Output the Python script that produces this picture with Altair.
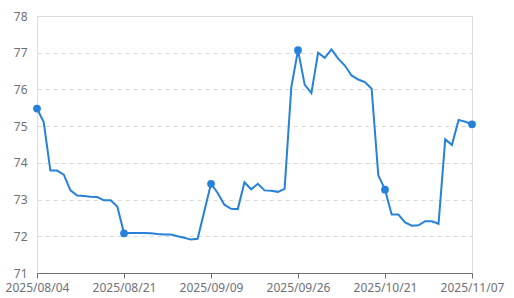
import altair as alt
import pandas as pd

dates = [
    "2025/08/04", "2025/08/05", "2025/08/06", "2025/08/07", "2025/08/08",
    "2025/08/11", "2025/08/12", "2025/08/13", "2025/08/14", "2025/08/15",
    "2025/08/18", "2025/08/19", "2025/08/20", "2025/08/21", "2025/08/22",
    "2025/08/25", "2025/08/26", "2025/08/27", "2025/08/28", "2025/08/29",
    "2025/09/01", "2025/09/02", "2025/09/03", "2025/09/04", "2025/09/05",
    "2025/09/08", "2025/09/09", "2025/09/10", "2025/09/11", "2025/09/12",
    "2025/09/15", "2025/09/16", "2025/09/17", "2025/09/18", "2025/09/19",
    "2025/09/22", "2025/09/23", "2025/09/24", "2025/09/25", "2025/09/26",
    "2025/09/28", "2025/09/29", "2025/09/30", "2025/10/09", "2025/10/10",
    "2025/10/11", "2025/10/13", "2025/10/14", "2025/10/15", "2025/10/16",
    "2025/10/17", "2025/10/20", "2025/10/21", "2025/10/22", "2025/10/23",
    "2025/10/24", "2025/10/27", "2025/10/28", "2025/10/29", "2025/10/30",
    "2025/10/31", "2025/11/03", "2025/11/04", "2025/11/05", "2025/11/06",
    "2025/11/07",
]

values = [
    75.48, 75.11, 73.79, 73.79, 73.68, 73.25, 73.11, 73.10, 73.08, 73.07,
    72.98, 72.98, 72.81, 72.08, 72.09, 72.09, 72.09, 72.08, 72.06, 72.05,
    72.05, 72.00, 71.96, 71.91, 71.93, 72.68, 73.43, 73.18, 72.86, 72.75,
    72.74, 73.47, 73.28, 73.43, 73.25, 73.24, 73.21, 73.29, 76.06, 77.07,
    76.13, 75.90, 77.00, 76.86, 77.09, 76.84, 76.65, 76.38, 76.27, 76.20,
    76.02, 73.66, 73.27, 72.59, 72.59, 72.38, 72.29, 72.30, 72.41, 72.41,
    72.34, 74.64, 74.49, 75.17, 75.12, 75.05,
]

label_dates = ["2025/08/04", "2025/08/21", "2025/09/09", "2025/09/26", "2025/10/21", "2025/11/07"]
y_ticks = [71, 72, 73, 74, 75, 76, 77, 78]

df = pd.DataFrame({"date": dates, "value": values})
df["marked"] = df["date"].isin(label_dates)

color = "#2681d8"
font = "Noto Sans"

x_enc = alt.X(
    "date:O",
    sort=dates,
    scale=alt.Scale(type="point", padding=0),
    axis=alt.Axis(
        title=None, values=label_dates, labelAngle=0, grid=False,
        domainColor="#6e7079", tickColor="#6e7079", tickSize=5,
        labelPadding=4, labelColor="#6e7079", labelFontSize=12, labelFont=font,
    ),
)
y_enc = alt.Y(
    "value:Q",
    scale=alt.Scale(domain=[71, 78], nice=False, zero=False),
    axis=alt.Axis(
        title=None, values=y_ticks, domain=False, ticks=False,
        grid=True, gridDash=[4, 4], gridColor="#d9d9d9", gridWidth=1,
        labelPadding=10, labelColor="#6e7079", labelFontSize=12, labelFont=font,
    ),
)

line = alt.Chart(df).mark_line(color=color, strokeWidth=2).encode(x=x_enc, y=y_enc)
pts = alt.Chart(df).transform_filter("datum.marked").mark_circle(
    color=color, size=60, opacity=1
).encode(x=x_enc, y=y_enc)

chart = (line + pts).properties(
    width=435, height=257,
    autosize=alt.AutoSizeParams(type="none"),
    padding={"left": 37, "top": 16, "right": 42, "bottom": 25},
).configure_view(stroke=None).configure(background="white")

chart.save("out.html", embed_options={"renderer": "svg", "actions": False})
